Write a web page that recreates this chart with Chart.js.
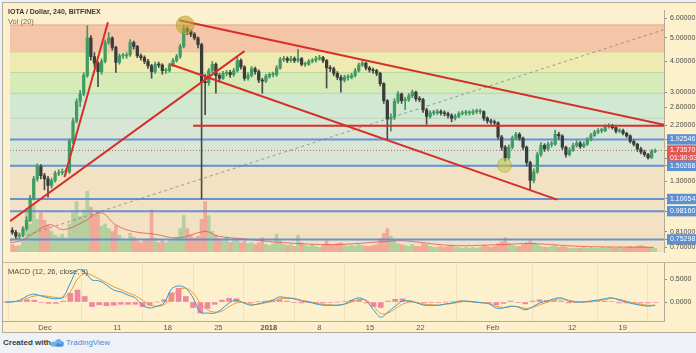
<!DOCTYPE html>
<html><head><meta charset="utf-8">
<script src="https://cdn.jsdelivr.net/npm/chart.js@4.4.1/dist/chart.umd.min.js"></script>
<style>
html,body{margin:0;padding:0;}
body{width:696px;height:353px;background:#eef1f5;position:relative;overflow:hidden;font-family:"Liberation Sans",Arial,sans-serif;}
#frame{position:absolute;left:2px;top:2px;width:693px;height:329px;background:#fdf0cc;border:1px solid #b3ab98;}
canvas{position:absolute;left:0;}
#cMain{top:0;}
#cMacd{top:262px;}
#sep{position:absolute;left:3px;top:262px;width:693px;height:1px;background:#c2b89c;}
.t{position:absolute;white-space:nowrap;line-height:1;}
</style></head><body>
<div id="frame"></div>
<canvas id="cMain" width="696" height="262" style="width:696px;height:262px"></canvas>
<canvas id="cMacd" width="696" height="71" style="width:696px;height:71px"></canvas>
<div id="sep"></div>
<div class="t" style="left:8px;top:8px;font-size:7px;font-weight:bold;color:#3a3a3a">IOTA / Dollar, 240, BITFINEX</div>
<div class="t" style="left:8px;top:18px;font-size:7.5px;color:#6d6d6d">Vol (20)</div>
<div class="t" style="left:8px;top:268px;font-size:7.5px;color:#4a4a4a">MACD (12, 26, close, 9)</div>
<div class="t" style="left:3px;top:339px;font-size:8px;font-weight:bold;color:#3c3c3c">Created with</div>
<svg style="position:absolute;left:50px;top:338px" width="14" height="9" viewBox="0 0 14 9"><path d="M2 8.5 h9.5 a2.6 2.6 0 0 0 0.3-5.2 a3.8 3.8 0 0 0-7.1 0.6 a2.3 2.3 0 0 0-2.7 4.6z" fill="#74b0e8"/><path d="M5 8.5 l3-4 l2 2 l2.5-2.5 v4.5z" fill="#3d8ad6"/></svg>
<div class="t" style="left:66px;top:339px;font-size:8px;color:#3f8fd8">TradingView</div>
<script>
// ---- data ----
const candleStartDay = -5.5, candleStepDays = 0.5; // 12h candles, day 0 = 1 Dec 2017
const opens = [0.82,0.805,0.777,0.784,0.834,0.90,1.11,1.33,1.49,1.37,1.33,1.25,1.31,1.40,1.41,1.42,1.42,1.89,2.29,2.75,2.95,3.51,4.99,4.19,3.94,3.64,4.01,4.78,4.99,4.57,3.97,4.22,4.22,4.26,4.78,4.61,4.22,4.15,4.01,3.84,3.64,3.90,3.87,3.67,3.67,3.87,4.04,4.19,4.61,5.45,5.31,5.17,4.99,4.69,3.30,3.28,3.67,3.90,3.51,3.42,3.58,3.61,3.54,3.67,4.04,3.80,3.42,3.51,3.74,3.64,3.36,3.33,3.48,3.54,3.54,3.77,4.08,4.11,4.04,4.11,4.04,4.11,3.90,3.90,4.01,4.04,4.11,4.15,4.04,3.77,3.74,3.58,3.45,3.36,3.45,3.45,3.51,3.67,3.87,3.94,3.77,3.70,3.67,3.58,3.25,2.77,2.33,2.37,2.75,2.95,2.77,2.80,2.90,3.00,2.82,2.80,2.54,2.39,2.47,2.47,2.50,2.47,2.45,2.41,2.35,2.39,2.45,2.47,2.47,2.47,2.50,2.50,2.50,2.35,2.29,2.27,2.25,1.97,1.79,1.62,1.79,1.95,2.02,1.95,1.79,1.55,1.31,1.42,1.67,1.82,1.76,1.84,1.84,2.02,1.99,1.79,1.67,1.74,1.82,1.86,1.80,1.84,1.92,2.00,2.06,2.09,2.09,2.17,2.19,2.15,2.08,2.09,2.04,1.99,1.89,1.84,1.76,1.71,1.67,1.62,1.72];
const highs = [0.84,0.82,0.80,0.85,0.93,1.14,1.36,1.53,1.52,1.40,1.36,1.34,1.43,1.45,1.46,1.46,1.93,2.35,2.82,3.05,3.60,5.60,5.10,4.35,4.00,4.10,4.90,5.25,5.05,4.62,4.30,4.32,4.35,4.92,4.85,4.66,4.30,4.22,4.08,3.90,3.98,3.98,3.92,3.75,3.94,4.12,4.28,4.70,5.62,5.55,5.40,5.25,5.05,4.75,3.55,3.75,4.00,3.95,3.58,3.65,3.68,3.68,3.75,4.15,4.10,3.85,3.60,3.82,3.80,3.70,3.42,3.55,3.60,3.62,3.85,4.16,4.20,4.18,4.20,4.18,4.49,4.16,3.98,4.08,4.12,4.20,4.24,4.20,4.08,3.85,3.80,3.64,3.52,3.52,3.54,3.58,3.75,3.95,4.02,3.98,3.82,3.76,3.72,3.62,3.28,2.80,2.45,2.82,3.02,2.98,2.86,2.96,3.06,3.03,2.88,2.83,2.58,2.52,2.53,2.55,2.54,2.52,2.49,2.45,2.44,2.50,2.52,2.53,2.52,2.55,2.56,2.56,2.52,2.38,2.33,2.31,2.27,2.00,1.82,1.83,1.99,2.06,2.05,1.97,1.81,1.57,1.46,1.71,1.87,1.85,1.88,1.89,2.10,2.06,2.01,1.81,1.78,1.86,1.90,1.89,1.88,1.96,2.04,2.10,2.13,2.14,2.21,2.23,2.22,2.17,2.13,2.12,2.06,2.01,1.92,1.86,1.79,1.74,1.69,1.75,1.76];
const lows = [0.79,0.76,0.76,0.77,0.82,0.89,1.09,1.30,1.33,1.20,1.12,1.22,1.29,1.37,1.38,1.38,1.40,1.85,2.25,2.62,2.90,3.45,4.05,3.80,3.16,3.55,3.95,4.70,4.45,3.61,3.90,4.12,4.12,4.20,4.50,4.15,4.05,3.92,3.75,3.42,3.58,3.78,3.55,3.58,3.62,3.82,3.98,4.12,4.55,5.15,5.05,4.90,4.55,1.10,2.43,3.20,3.60,2.97,3.30,3.38,3.50,3.45,3.48,3.62,3.72,3.35,3.36,3.46,3.55,3.28,2.97,3.28,3.42,3.46,3.48,3.72,4.00,3.96,3.98,3.96,3.98,3.84,3.82,3.86,3.95,3.98,4.05,3.96,3.12,3.64,3.50,3.38,3.00,3.30,3.36,3.40,3.46,3.62,3.82,3.70,3.62,3.58,3.50,3.18,2.70,1.92,2.08,2.32,2.70,2.70,2.55,2.75,2.85,2.76,2.74,2.48,2.22,2.35,2.42,2.43,2.42,2.40,2.35,2.27,2.31,2.36,2.42,2.42,2.42,2.43,2.45,2.45,2.30,2.24,2.22,2.20,1.93,1.74,1.57,1.60,1.76,1.92,1.91,1.75,1.50,1.20,1.28,1.40,1.64,1.72,1.73,1.79,1.82,1.93,1.75,1.63,1.65,1.72,1.79,1.77,1.78,1.82,1.90,1.98,2.03,2.05,2.07,2.14,2.12,2.04,2.05,2.01,1.96,1.86,1.81,1.72,1.68,1.64,1.60,1.61,1.70];
const closes = [0.805,0.777,0.784,0.834,0.90,1.11,1.33,1.49,1.37,1.33,1.25,1.31,1.40,1.41,1.42,1.42,1.89,2.29,2.75,2.95,3.51,4.99,4.19,3.94,3.64,4.01,4.78,4.99,4.57,3.97,4.22,4.22,4.26,4.78,4.61,4.22,4.15,4.01,3.84,3.64,3.90,3.87,3.67,3.67,3.87,4.04,4.19,4.61,5.45,5.31,5.17,4.99,4.69,3.30,3.28,3.67,3.90,3.51,3.42,3.58,3.61,3.54,3.67,4.04,3.80,3.42,3.51,3.74,3.64,3.36,3.33,3.48,3.54,3.54,3.77,4.08,4.11,4.04,4.11,4.04,4.11,3.90,3.90,4.01,4.04,4.11,4.15,4.04,3.77,3.74,3.58,3.45,3.36,3.45,3.45,3.51,3.67,3.87,3.94,3.77,3.70,3.67,3.58,3.25,2.77,2.33,2.37,2.75,2.95,2.77,2.80,2.90,3.00,2.82,2.80,2.54,2.39,2.47,2.47,2.50,2.47,2.45,2.41,2.35,2.39,2.45,2.47,2.47,2.47,2.50,2.50,2.50,2.35,2.29,2.27,2.25,1.97,1.79,1.62,1.79,1.95,2.02,1.95,1.79,1.55,1.31,1.42,1.67,1.82,1.76,1.84,1.84,2.02,1.99,1.79,1.67,1.74,1.82,1.86,1.80,1.84,1.92,2.00,2.06,2.09,2.09,2.17,2.19,2.15,2.08,2.09,2.04,1.99,1.89,1.84,1.76,1.71,1.67,1.62,1.72,1.7357];
const volumes = [8,6,7,12,45,30,52,35,42,34,29,22,18,16,19,15,30,42,54,38,45,65,48,40,42,28,30,25,22,28,18,14,12,20,16,12,10,12,14,45,15,10,12,10,12,14,16,25,39,25,18,15,17,35,54,39,22,18,14,12,16,10,12,14,10,12,9,10,8,10,15,8,7,9,19,12,8,7,8,6,18,10,7,6,8,6,5,7,12,8,7,9,10,7,6,7,6,8,7,6,6,7,8,14,20,25,17,12,9,8,7,6,8,6,6,9,8,6,5,5,6,5,6,7,5,5,4,5,4,5,4,5,7,6,5,6,9,11,15,9,7,6,6,8,10,12,10,8,6,5,5,6,7,5,6,5,4,4,4,4,5,4,5,4,4,5,4,5,4,4,5,4,5,6,5,6,7,6,5,5,4];
const volMADays = [-5.8,-4.0,-0.4,1.7,4.4,6.9,9.0,11.4,14.5,17.7,21.5,23.3,27.0,32.5,39.5,46.4,49.2,56.1,63.0,67.2,74.1,84.3];
const volMAValues = [10,13,29,24,32,42,29,22,19,15,22,17,14,10,8,11,12,7,8,9,6,5];

const macdStartDay = -5.5, macdStepDays = 1;
const macdLine = [0,0,0.04,0.13,0.17,0.13,0.09,0.07,0.11,0.41,0.70,0.65,0.48,0.46,0.37,0.26,0.22,0.15,0.09,-0.07,-0.13,-0.09,-0.02,0.28,0.35,0.30,0.09,-0.22,-0.24,-0.24,-0.15,-0.02,0.04,-0.02,-0.07,-0.04,0,0.04,0.11,0.09,0.07,0.02,0,-0.04,-0.07,-0.07,-0.07,-0.04,0.04,0.09,0.02,-0.17,-0.33,-0.22,-0.09,0.02,0.02,-0.02,-0.07,-0.07,-0.07,-0.04,-0.02,0.02,0.02,0,-0.02,-0.04,-0.13,-0.13,-0.09,-0.11,-0.17,-0.11,-0.02,0.02,0.07,0.09,0.02,0,0,0.02,0.04,0.07,0.09,0.04,0,-0.04,-0.07,-0.09,-0.07];
const signalLine = [0,0.01,0.02,0.08,0.13,0.14,0.12,0.10,0.09,0.22,0.50,0.62,0.58,0.50,0.42,0.33,0.27,0.20,0.14,0.04,-0.06,-0.09,-0.06,0.10,0.26,0.30,0.20,-0.02,-0.17,-0.22,-0.20,-0.10,-0.02,-0.01,-0.05,-0.05,-0.02,0.01,0.07,0.08,0.08,0.04,0.01,-0.02,-0.05,-0.06,-0.07,-0.05,0,0.05,0.04,-0.09,-0.25,-0.24,-0.15,-0.05,0,-0.01,-0.05,-0.06,-0.07,-0.05,-0.03,0,0.01,0,-0.01,-0.03,-0.09,-0.12,-0.10,-0.10,-0.14,-0.12,-0.06,-0.01,0.04,0.07,0.04,0.01,0,0.01,0.03,0.05,0.08,0.06,0.02,-0.02,-0.05,-0.07,-0.07];
const macdHist = [0,0.01,0.02,0.05,0.04,-0.01,-0.03,-0.03,0.02,0.19,0.26,0.12,-0.10,-0.06,-0.08,-0.07,-0.05,-0.05,-0.05,-0.10,-0.07,0,0.05,0.20,0.30,0.12,-0.12,-0.24,-0.14,-0.05,0.04,0.08,0.07,-0.01,-0.02,0.01,0.02,0.03,0.05,0.02,-0.01,-0.02,-0.01,-0.02,-0.02,-0.01,0,0.01,0.04,0.05,-0.02,-0.10,-0.12,0.02,0.06,0.07,0.03,-0.01,-0.02,-0.01,-0.01,0,0.01,0.02,0.01,0,-0.01,-0.02,-0.06,-0.03,0.02,-0.01,-0.04,0.02,0.05,0.03,0.03,0.02,-0.02,-0.01,0,0,0.01,0.02,0.01,-0.02,-0.02,-0.02,-0.02,-0.02,-0.01];

const dateTickDays = [0,10,17,24,31,38,45,52,62,73,80];
const dateTickLabels = ['Dec','11','18','25','2018','8','15','22','Feb','12','19'];
const priceTicks = [6,5,4,3,2.6,2.2,1.92546,1.7357,1.61,1.50268,1.3,1.10054,0.9816,0.81,0.75298,0.7];
const priceTickLabels = ['6.00000','5.00000','4.00000','3.00000','2.60000','2.20000','1.92546','1.73570','01:30:03','1.50268','1.30000','1.10054','0.98160','0.81000','0.75298','0.70000'];
const priceTickKinds = ['p','p','p','p','p','p','b','r','r','b','p','b','b','p','b','p'];
const macdTicks = [0.5, 0];
const macdTickLabels = ['0.5000','0.0000'];

const bandTops = [7.5,5.64,4.38,3.61,2.97,2.35,1.50];
const bandBottoms = [5.64,4.38,3.61,2.97,2.35,1.50,0.6];
const levelPrices = [1.92546,1.50268,1.10054,0.98160,0.75298];
const lastPrice = 1.7357;
const trendLines = [[[1.80,1.35],[7.89,5.79]],[[-5.82,0.894],[27.0,4.41]],[[17.87,5.90],[85.87,2.207]],[[16.62,3.90],[70.78,1.094]],[[19.8,2.19],[85.9,2.19]]];
const dottedTrend = [[-5.82,0.744],[85.73,5.40]];
const circlePoints = [[18.7,5.64],[63.4,1.51]];

// ---- styles ----
const X_MIN = -5.82, X_MAX = 85.73;
const bandFills = ['#fdf0cf','#f4c5a7','#efeab2','#d7ebb9','#d1e9d0','#d9e6d6','#f2e2c3'];
const bandEdges = ['rgba(0,0,0,0)','#e5a68a','#d8cf8e','#bcd99e','#acd5b2','#b9d3c3','#a8bfd2'];
const UP = '#3f9c62', DOWN = '#3b3b3b';
Chart.defaults.font.family = '"Liberation Sans", Arial, sans-serif';

const cDay = i => candleStartDay + candleStepDays * i;
const mDay = i => macdStartDay + macdStepDays * i;
const isUp = i => closes[i] >= opens[i];

const ds = [];
bandTops.forEach((t, k) => ds.push({type:'line', data:[{x:X_MIN,y:t},{x:X_MAX,y:t}], borderColor:bandEdges[k], borderWidth:1,
  pointRadius:0, fill:{value:bandBottoms[k]}, backgroundColor:bandFills[k], order:40-k}));
ds.push({type:'bar', yAxisID:'yv', data:volumes.map((v,i)=>({x:cDay(i),y:v})), grouped:false, barThickness:3,
  backgroundColor:c=>isUp(c.dataIndex)?'rgba(90,180,110,0.4)':'rgba(235,95,90,0.42)', order:20});
ds.push({type:'line', yAxisID:'yv', data:volMADays.map((d,i)=>({x:d,y:volMAValues[i]})), borderColor:'rgba(225,80,70,0.75)',
  borderWidth:1, pointRadius:0, tension:0.4, order:19});
levelPrices.forEach(p => ds.push({type:'line', data:[{x:X_MIN,y:p},{x:X_MAX,y:p}], borderColor:'rgba(88,140,210,0.9)', borderWidth:2, pointRadius:0, order:12}));
ds.push({type:'line', data:[{x:X_MIN,y:lastPrice},{x:X_MAX,y:lastPrice}], borderColor:'rgba(160,70,60,0.7)', borderWidth:1, borderDash:[1,2], pointRadius:0, order:11});
ds.push({type:'line', data:dottedTrend.map(p=>({x:p[0],y:p[1]})), borderColor:'rgba(120,120,120,0.7)', borderWidth:1, borderDash:[3,3], pointRadius:0, order:11});
ds.push({type:'bar', data:lows.map((l,i)=>({x:cDay(i),y:[l,highs[i]]})), grouped:false, barThickness:1,
  backgroundColor:c=>isUp(c.dataIndex)?'#4a8f62':'#4a4a4a', order:6});
ds.push({type:'bar', data:opens.map((o,i)=>({x:cDay(i),y:[o,closes[i]]})), grouped:false, barThickness:2.6, minBarLength:1,
  backgroundColor:c=>isUp(c.dataIndex)?UP:DOWN, order:5});
trendLines.forEach(l => ds.push({type:'line', data:l.map(p=>({x:p[0],y:p[1]})), borderColor:'#d62f2a', borderWidth:2, pointRadius:0, order:2}));
ds.push({type:'line', showLine:false, data:circlePoints.map(p=>({x:p[0],y:p[1]})), pointRadius:[9,7],
  pointBackgroundColor:['rgba(190,165,45,0.6)','rgba(200,195,60,0.55)'], pointBorderColor:'rgba(170,150,40,0.5)', pointBorderWidth:1, order:1});

const zeroPad = s => { s.paddingTop = 0; s.paddingBottom = 0; s.paddingLeft = 0; s.paddingRight = 0; };
const tickColor = c => priceTickKinds[c.index] === 'p' ? '#4a4a4a' : '#ffffff';
const tickBg = c => priceTickKinds[c.index] === 'b' ? '#5b8fd6' : (priceTickKinds[c.index] === 'r' ? '#e25a56' : 'rgba(0,0,0,0)');

new Chart(document.getElementById('cMain'), {
  type:'line',
  data:{datasets:ds},
  options:{
    responsive:false, devicePixelRatio:1, animation:false,
    layout:{padding:{top:3,left:3,right:0,bottom:0}},
    plugins:{legend:{display:false}, tooltip:{enabled:false}},
    scales:{
      x:{type:'linear', min:X_MIN, max:X_MAX, offset:false, z:1,
        afterBuildTicks:s=>{s.ticks = dateTickDays.map(v=>({value:v}));},
        ticks:{display:false}, grid:{color:'rgba(0,0,0,0.05)', drawTicks:false}, border:{display:false},
        afterFit:s=>{s.height=0; zeroPad(s);}},
      y:{type:'logarithmic', position:'right', min:0.669, max:6.49,
        afterBuildTicks:s=>{s.ticks = priceTicks.map(v=>({value:v}));},
        afterFit:s=>{s.width=32; zeroPad(s);},
        ticks:{autoSkip:false, padding:3, font:{size:7}, color:tickColor, callback:(v,i)=>priceTickLabels[i],
          showLabelBackdrop:true, backdropColor:tickBg, backdropPadding:{x:3,y:1}},
        grid:{drawOnChartArea:false, drawTicks:true, tickLength:3, color:'#8f8f8f'},
        border:{display:true, color:'#b3ab98'}},
      yv:{type:'linear', display:false, min:0, max:259}
    }
  }
});

new Chart(document.getElementById('cMacd'), {
  type:'line',
  data:{datasets:[
    {type:'bar', data:macdHist.map((v,i)=>({x:mDay(i),y:v})), grouped:false, barThickness:5, backgroundColor:'rgba(232,50,120,0.55)', order:3},
    {type:'line', data:signalLine.map((v,i)=>({x:mDay(i),y:v})), borderColor:'#f29a2e', borderWidth:1, pointRadius:0, tension:0.35, order:2},
    {type:'line', data:macdLine.map((v,i)=>({x:mDay(i),y:v})), borderColor:'#2f9ad8', borderWidth:1, pointRadius:0, tension:0.35, order:1}
  ]},
  options:{
    responsive:false, devicePixelRatio:1, animation:false,
    layout:{padding:{top:0,left:3,right:0,bottom:1}},
    plugins:{legend:{display:false}, tooltip:{enabled:false}},
    scales:{
      x:{type:'linear', min:X_MIN, max:X_MAX, offset:false,
        afterBuildTicks:s=>{s.ticks = dateTickDays.map(v=>({value:v}));},
        afterFit:s=>{s.height=11; zeroPad(s);},
        ticks:{autoSkip:false, maxRotation:0, padding:2, color:'#555',
          font:c=>({size:7.5, weight:c.index===4?'bold':'normal'}), callback:(v,i)=>dateTickLabels[i]},
        grid:{color:'rgba(0,0,0,0.05)', drawTicks:false}, border:{display:true, color:'#b3ab98'}},
      y:{type:'linear', position:'right', min:-0.413, max:0.87,
        afterBuildTicks:s=>{s.ticks = macdTicks.map(v=>({value:v}));},
        afterFit:s=>{s.width=32; zeroPad(s);},
        ticks:{padding:3, font:{size:7}, color:'#4a4a4a', callback:(v,i)=>macdTickLabels[i]},
        grid:{drawOnChartArea:false, drawTicks:true, tickLength:3, color:'#8f8f8f'},
        border:{display:true, color:'#b3ab98'}}
    }
  }
});
</script>
</body></html>
